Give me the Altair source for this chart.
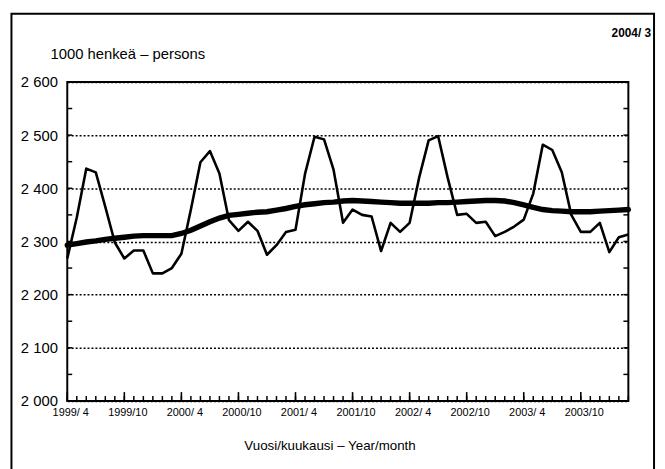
import altair as alt
import pandas as pd

# ---- data ----
start_label = "1999/4"          # first month shown, series runs monthly to 2004/3
employed = [
    2268, 2345, 2437, 2430, 2365, 2298, 2268, 2283, 2283, 2240,
    2240, 2250, 2277, 2360, 2449, 2470, 2428, 2340, 2320, 2337,
    2320, 2275, 2293, 2318, 2322, 2427, 2497, 2492, 2435, 2335,
    2360, 2350, 2347, 2282, 2335, 2318, 2335, 2420, 2490, 2498,
    2420, 2350, 2352, 2335, 2337, 2310, 2318, 2328, 2341, 2390,
    2482, 2472, 2430, 2350, 2318, 2318, 2335, 2280, 2308, 2313,
]
trend = [
    2293, 2296, 2299, 2301, 2304, 2306, 2308, 2310, 2311, 2311,
    2311, 2311, 2315, 2321, 2329, 2337, 2344, 2349, 2351, 2353,
    2355, 2356, 2359, 2362, 2366, 2369, 2371, 2373, 2374, 2376,
    2377, 2376, 2375, 2374, 2373, 2372, 2372, 2372, 2372, 2373,
    2373, 2374, 2375, 2376, 2377, 2377, 2376, 2373, 2369, 2364,
    2360, 2358, 2357, 2356, 2356, 2356, 2357, 2358, 2359, 2360,
]
x_tick_labels = ["1999/ 4", "1999/10", "2000/ 4", "2000/10", "2001/ 4",
                 "2001/10", "2002/ 4", "2002/10", "2003/ 4", "2003/10"]
y_ticks = [2000, 2100, 2200, 2300, 2400, 2500, 2600]
y_minor = [2050, 2150, 2250, 2350, 2450, 2550]
unit_text = "1000 henkeä – persons"
date_text = "2004/ 3"
x_title = "Vuosi/kuukausi – Year/month"

# ---- layout ----
W, H = 568, 323
FONT = "Liberation Sans"
n = len(employed)

df = pd.DataFrame({"i": list(range(n)), "employed": employed, "trend": trend})
months = pd.DataFrame({"i": list(range(n))})
half_years = pd.DataFrame({"i": list(range(0, n, 6))})
minor_df = pd.DataFrame({"v": y_minor + y_ticks[1:-1]})
one = pd.DataFrame({"a": [0]})

xs = alt.Scale(domain=[0, n - 1], nice=False, zero=False)
ys = alt.Scale(domain=[y_ticks[0], y_ticks[-1]], nice=False, zero=False)

label_array = "[" + ",".join("'" + s + "'" for s in x_tick_labels) + "]"

x_axis = alt.Axis(
    values=list(range(0, n, 6)),
    labelExpr=label_array + "[round(datum.value/6)]",
    tickSize=0, domain=False, grid=False, title=None,
    labelFont=FONT, labelFontSize=11, labelColor="black",
    labelPadding=6, labelOffset=3, labelFlush=False, labelOverlap=False,
)
y_axis = alt.Axis(
    values=y_ticks,
    labelExpr="replace(format(datum.value, ','), ',', ' ')",
    tickSize=0, domain=False, grid=True, gridColor="black",
    gridDash=[2, 2], gridWidth=1.5, gridOpacity=1, title=None,
    labelFont=FONT, labelFontSize=15, labelColor="black", labelPadding=10,
)

X = alt.X("i:Q", scale=xs, axis=x_axis)

line_emp = alt.Chart(df).mark_line(color="black", strokeWidth=2.6, strokeJoin="round").encode(
    x=X, y=alt.Y("employed:Q", scale=ys, axis=y_axis),
)
line_trend = alt.Chart(df).mark_line(color="black", strokeWidth=5.5, strokeCap="round").encode(
    x=X, y=alt.Y("trend:Q", scale=ys, axis=y_axis),
)

month_ticks = alt.Chart(months).mark_rule(color="black", strokeWidth=1.5).encode(
    x=X, y=alt.value(H), y2=alt.value(H - 5),
)
half_ticks = alt.Chart(half_years).mark_rule(color="black", strokeWidth=1.6).encode(
    x=X, y=alt.value(H), y2=alt.value(H - 9),
)
left_ticks = alt.Chart(minor_df).mark_rule(color="black", strokeWidth=1.5).encode(
    y=alt.Y("v:Q", scale=ys, axis=y_axis),
    x=alt.value(0), x2=alt.value(5),
)
right_ticks = alt.Chart(minor_df).mark_rule(color="black", strokeWidth=1.5).encode(
    y=alt.Y("v:Q", scale=ys, axis=y_axis),
    x=alt.value(W), x2=alt.value(W - 5),
)

frame = alt.Chart(one).mark_rect(fill=None, stroke="black", strokeWidth=2).encode(
    x=alt.value(-56.5), x2=alt.value(594), y=alt.value(-69), y2=alt.value(420),
)
t_unit = alt.Chart(one).mark_text(text=unit_text, font=FONT, fontSize=15, align="left",
                                  baseline="alphabetic", color="black").encode(
    x=alt.value(-17), y=alt.value(-23))
t_date = alt.Chart(one).mark_text(text=date_text, font=FONT, fontSize=12, fontWeight="bold",
                                  align="right", baseline="alphabetic", color="black").encode(
    x=alt.value(591), y=alt.value(-45))
t_xtitle = alt.Chart(one).mark_text(text=x_title, font=FONT, fontSize=13.5, align="center",
                                    baseline="alphabetic", color="black").encode(
    x=alt.value(266), y=alt.value(373))

chart = alt.layer(
    line_emp, line_trend, month_ticks, half_ticks, left_ticks, right_ticks,
    frame, t_unit, t_date, t_xtitle,
).properties(
    width=W, height=H,
    autosize=alt.AutoSizeParams(type="none"),
    padding={"left": 60, "top": 72, "right": 29, "bottom": 66},
    background="white",
).configure_view(stroke="black", strokeWidth=2)

chart.save("out.html", embed_options={"renderer": "svg", "actions": False})
